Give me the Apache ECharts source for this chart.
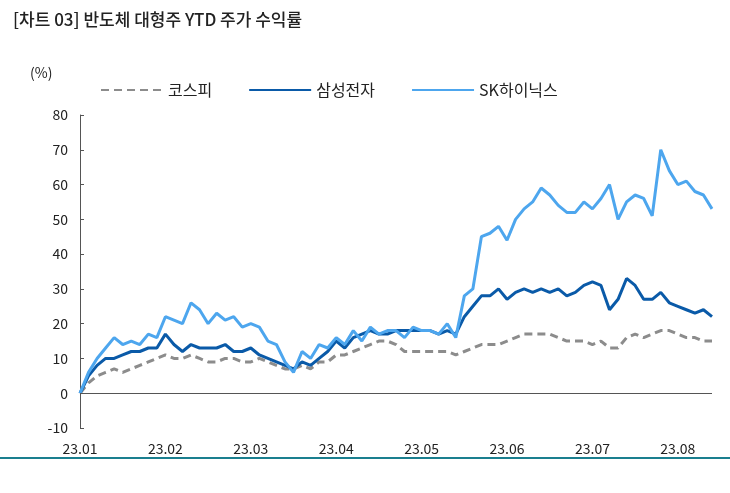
<!DOCTYPE html>
<html><head><meta charset="utf-8">
<script src="https://cdn.jsdelivr.net/npm/echarts@6/dist/echarts.min.js"></script>
<style>body{margin:0}#c{width:730px;height:493px}</style></head>
<body><div id="c"></div>
<script>
const monthLabels=['23.01','23.02','23.03','23.04','23.05','23.06','23.07','23.08'];
const pointsPerMonth=[10,10,10,10,10,10,10,5];
const sk=[0,6,10,13,16,14,15,14,17,16, 22,21,20,26,24,20,23,21,22,19, 20,19,15,14,9,6,12,10,14,13, 16,14,18,15,19,17,18,18,16,19, 18,18,17,20,16,28,30,45,46,48, 44,50,53,55,59,57,54,52,52,55, 53,56,60,50,55,57,56,51,70,64, 60,61,58,57,53];
const samsung=[0,5,8,10,10,11,12,12,13,13, 17,14,12,14,13,13,13,14,12,12, 13,11,10,9,8,7,9,8,10,12, 15,13,16,17,18,17,17,18,18,18, 18,18,17,18,17,22,25,28,28,30, 27,29,30,29,30,29,30,28,29,31, 32,31,24,27,33,31,27,27,29,26, 25,24,23,24,22];
const kospi=[0,3,5,6,7,6,7,8,9,10, 11,10,10,11,10,9,9,10,10,9, 9,10,9,8,7,7,8,7,9,9, 11,11,12,13,14,15,15,14,12,12, 12,12,12,12,11,12,13,14,14,14, 15,16,17,17,17,17,16,15,15,15, 14,15,13,13,16,17,16,17,18,18, 17,16,16,15,15];
const cats=[];monthLabels.forEach((m,i)=>{for(let k=0;k<pointsPerMonth[i];k++)cats.push(k===0?m:m+'_'+k);});
const ch=echarts.init(document.getElementById('c'));
const F='"Noto Sans CJK KR", sans-serif';
ch.setOption({
 animation:false,
 title:{text:'[차트 03] 반도체 대형주 YTD 주가 수익률',left:8,top:6,textStyle:{fontFamily:F,fontSize:17,fontWeight:500,color:'#222'}},
 graphic:[{type:'text',left:30,top:66,style:{text:'(%)',font:'14px '+F,fill:'#222'}},
  {type:'rect',shape:{x:0,y:457,width:730,height:2},style:{fill:'#1a7f8f'}}],
 legend:{top:77,left:95,itemWidth:62,itemHeight:4,itemGap:36,textStyle:{fontFamily:F,fontSize:16,color:'#222'},
  itemStyle:{opacity:0},data:['코스피','삼성전자','SK하이닉스']},
 grid:{left:80,right:18,top:115,bottom:65},
 xAxis:{type:'category',data:cats,boundaryGap:false,axisLine:{show:false},axisTick:{show:false},
  axisLabel:{interval:0,color:'#222',fontSize:14,fontFamily:F,formatter:v=>v.includes('_')?'':v,margin:14}},
 yAxis:{type:'value',min:-10,max:80,interval:10,splitLine:{show:false},axisLine:{show:true,lineStyle:{color:'#555'}},
  axisTick:{show:true,inside:true,length:4},axisLabel:{color:'#222',fontSize:14,fontFamily:F,margin:12}},
 series:[
  {name:'코스피',type:'line',data:kospi,symbol:'none',lineStyle:{color:'#8c8c8c',width:3,type:[8,5]},itemStyle:{color:'#8c8c8c'},
   markLine:{silent:true,symbol:'none',label:{show:false},lineStyle:{color:'#555',type:'solid',width:1},data:[{yAxis:0}]}},
  {name:'삼성전자',type:'line',data:samsung,symbol:'none',lineStyle:{color:'#0a5aa8',width:3},itemStyle:{color:'#0a5aa8'}},
  {name:'SK하이닉스',type:'line',data:sk,symbol:'none',lineStyle:{color:'#4da6ee',width:3},itemStyle:{color:'#4da6ee'}}
 ]});
</script></body></html>
